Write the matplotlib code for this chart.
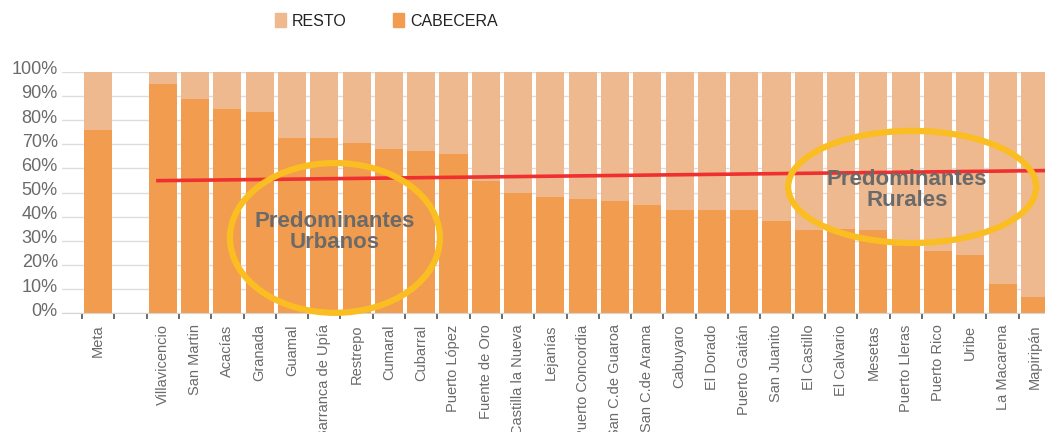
import matplotlib.pyplot as plt
import matplotlib.transforms as mtransforms
import numpy as np
from matplotlib.patches import Ellipse, Patch

# Municipios del Meta (el hueco separa el total departamental)
categorias = ['Meta', '', 'Villavicencio', 'San Martin', 'Acacías', 'Granada', 'Guamal',
              'Barranca de Upía', 'Restrepo', 'Cumaral', 'Cubarral', 'Puerto López',
              'Fuente de Oro', 'Castilla la Nueva', 'Lejanías', 'Puerto Concordia',
              'San C.de Guaroa', 'San C.de Arama', 'Cabuyaro', 'El Dorado', 'Puerto Gaitán',
              'San Juanito', 'El Castillo', 'El Calvario', 'Mesetas', 'Puerto Lleras',
              'Puerto Rico', 'Uribe', 'La Macarena', 'Mapiripán']

cabecera = [75.9, np.nan, 94.9, 88.7, 84.6, 83.3, 72.6, 72.6, 70.5, 68.0, 67.2, 65.9,
            54.8, 49.8, 48.1, 47.3, 46.5, 44.8, 42.8, 42.8, 42.8, 38.2, 34.5, 34.9,
            34.5, 29.1, 25.8, 24.1, 12.1, 6.8]
resto = [24.1, np.nan, 5.1, 11.3, 15.4, 16.7, 27.4, 27.4, 29.5, 32.0, 32.8, 34.1,
         45.2, 50.2, 51.9, 52.7, 53.5, 55.2, 57.2, 57.2, 57.2, 61.8, 65.5, 65.1,
         65.5, 70.9, 74.2, 75.9, 87.9, 93.2]

# Línea de tendencia (valor inicial y final)
tendencia = [54.9, 59.1]

y_ticks = list(range(0, 101, 10))

COLOR_CAB = '#F29C4F'
COLOR_RES = '#EEB98E'
GRIS = '#6a6a6a'
AMARILLO = '#FBBE22'

fig = plt.figure(figsize=(10.45, 4.32), dpi=100)
W, H = 1045, 432
slot = 32.3
x0, x1 = -1.12, 29.62
ax = fig.add_axes([62 / W, (H - 313.3) / H, (x1 - x0) * slot / W, 241.6 / H])

x = np.arange(len(categorias))
ax.bar(x, cabecera, width=0.87, color=COLOR_CAB, zorder=2)
ax.bar(x, resto, width=0.87, bottom=cabecera, color=COLOR_RES, zorder=2)

# tendencia
tx = [categorias.index('Villavicencio') - 0.15, categorias.index('Mapiripán') + 0.5]
ax.plot(tx, tendencia, color='#EE3030', linewidth=2.6, zorder=3, clip_on=False)

ax.set_xlim(x0, x1)
ax.set_ylim(0, 100)
ax.set_yticks(y_ticks)
ax.set_yticklabels([f'{v}%' for v in y_ticks], color=GRIS, fontsize=13,
                   family='Liberation Sans')
ax.tick_params(axis='y', length=0, pad=3)
# etiquetas un poco por encima de la línea de la grilla
desplaz = mtransforms.ScaledTranslation(0, 4 / 100, fig.dpi_scale_trans)
for lbl in ax.get_yticklabels():
    lbl.set_transform(lbl.get_transform() + desplaz)

ax.set_xticks(x)
ax.set_xticklabels(categorias, rotation=90, color=GRIS, fontsize=10.5,
                   family='Liberation Sans')
ax.tick_params(axis='x', which='major', length=0, pad=8)
ax.set_xticks(x - 0.5, minor=True)
ax.tick_params(axis='x', which='minor', length=4.5, width=1.1, color='#444444')

ax.grid(axis='y', color='#dddddd', linewidth=1)
ax.set_axisbelow(True)
for s in ['top', 'right', 'left']:
    ax.spines[s].set_visible(False)
ax.spines['bottom'].set_color('#d5d5d5')

# Anotaciones
ax.add_patch(Ellipse((7.33, 31.2), 6.5, 62, fill=False, edgecolor=AMARILLO,
                     linewidth=4.5, zorder=4, clip_on=False))
ax.add_patch(Ellipse((25.2, 52.3), 7.68, 46.4, fill=False, edgecolor=AMARILLO,
                     linewidth=4.5, zorder=4, clip_on=False))
ax.text(7.33, 33.6, 'Predominantes\nUrbanos', ha='center', va='center', fontsize=16,
        fontweight='bold', color=GRIS, family='Liberation Sans', linespacing=1.0, zorder=5)
ax.text(25.04, 51.0, 'Predominantes\nRurales', ha='center', va='center', fontsize=16,
        fontweight='bold', color=GRIS, family='Liberation Sans', linespacing=1.0, zorder=5)

handles = [Patch(color=COLOR_RES, label='RESTO'), Patch(color=COLOR_CAB, label='CABECERA')]
fig.legend(handles=handles, loc='center', bbox_to_anchor=(386.5 / W, 1 - 21 / H), ncol=2,
           frameon=False, prop={'family': 'Liberation Sans', 'size': 11.5},
           handlelength=0.65, handleheight=0.9, handletextpad=0.4, columnspacing=2.9,
           labelcolor='#222222')

fig.savefig('out.png', dpi=100)
